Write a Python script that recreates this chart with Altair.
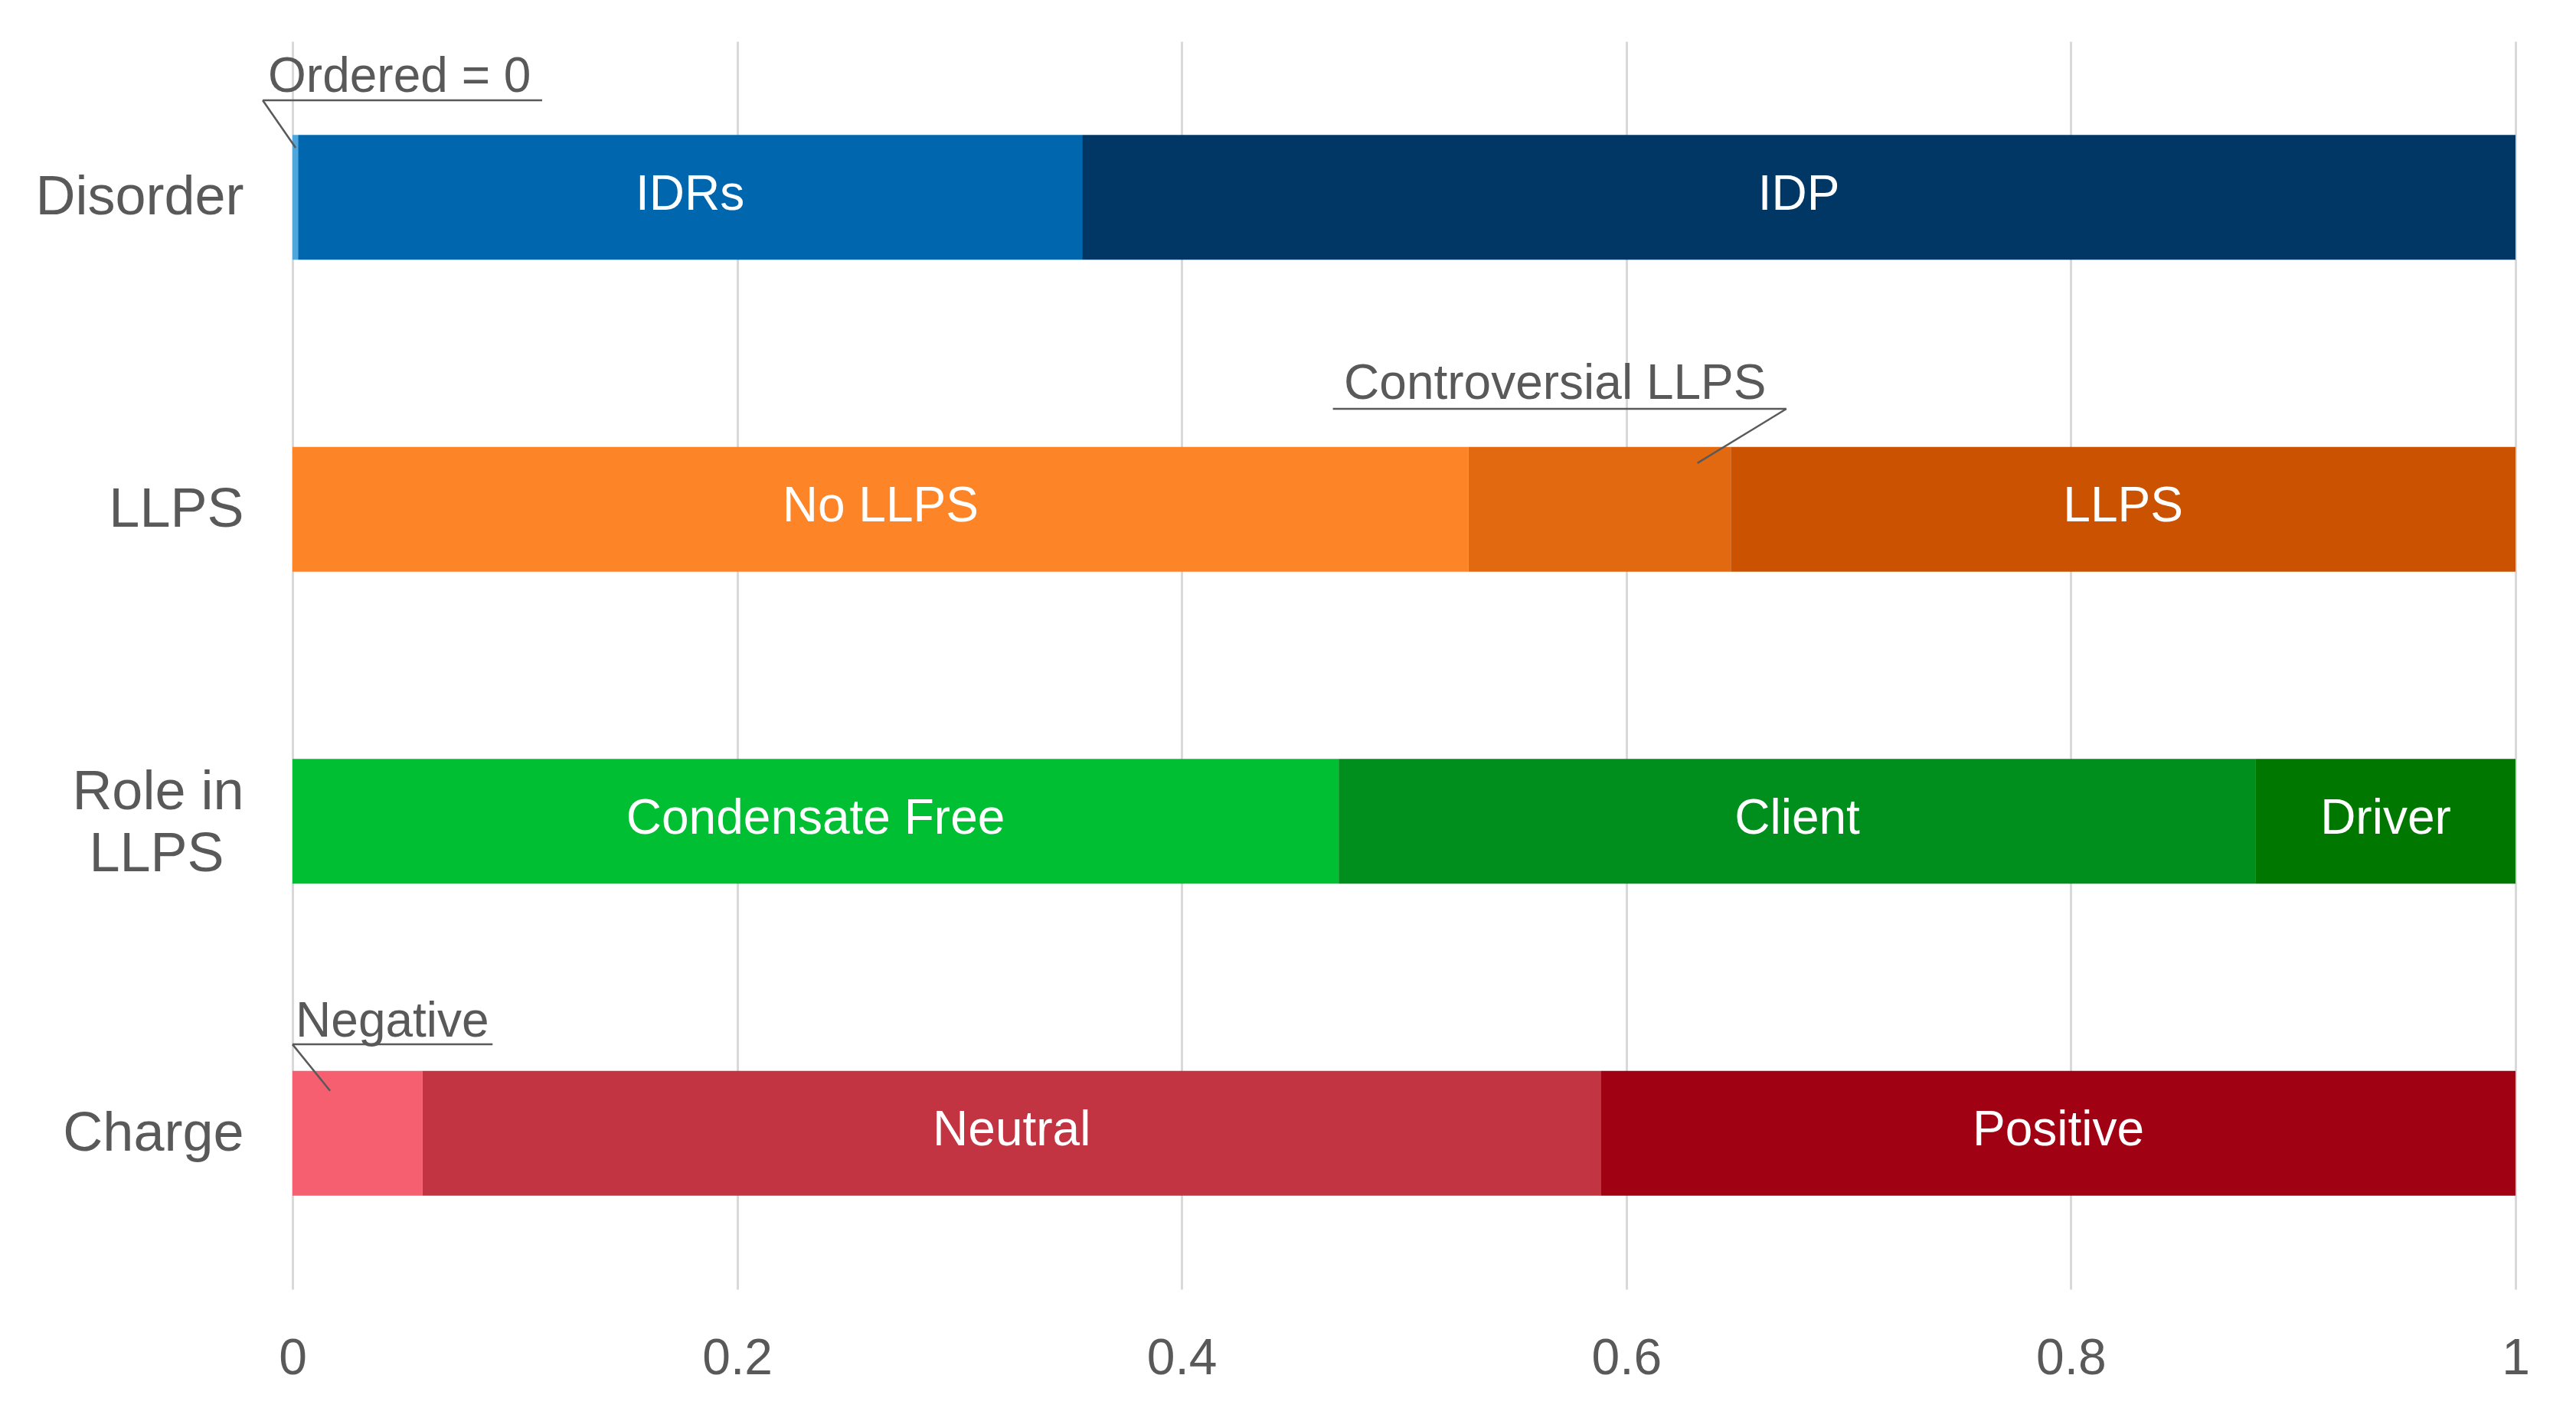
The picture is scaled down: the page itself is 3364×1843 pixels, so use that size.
import altair as alt
import pandas as pd

# ---- data ----
categories = ["Disorder", "LLPS", "Role in LLPS", "Charge"]
cat_pos = [0.5, 1.5, 2.5, 3.5]
# axis label lines (two-line label for "Role in LLPS")
label_pos = [0.5, 1.5, 2.405, 2.605, 3.5]
label_text = ["Disorder", "LLPS", "Role in", "LLPS", "Charge"]

seg_category = ["Disorder", "Disorder", "Disorder",
                "LLPS", "LLPS", "LLPS",
                "Role in LLPS", "Role in LLPS", "Role in LLPS",
                "Charge", "Charge", "Charge"]
seg_name = ["Ordered", "IDRs", "IDP",
            "No LLPS", "Controversial LLPS", "LLPS",
            "Condensate Free", "Client", "Driver",
            "Negative", "Neutral", "Positive"]
seg_value = [0.0025, 0.3527, 0.6448,
             0.529, 0.118, 0.353,
             0.4706, 0.4126, 0.1168,
             0.0584, 0.5303, 0.4113]
seg_label = ["", "IDRs", "IDP",
             "No LLPS", "", "LLPS",
             "Condensate Free", "Client", "Driver",
             "", "Neutral", "Positive"]
seg_color = ["#4ea6dc", "#0066ae", "#003764",
             "#fd8527", "#e36910", "#cb5200",
             "#00bf33", "#008f1c", "#007800",
             "#f65f70", "#c23441", "#a00213"]

# callout annotations (data units)
ann_text = ["Ordered = 0", "Controversial LLPS", "Negative"]
ann_text_x = [-0.011, 0.473, 0.0014]
ann_text_y = [0.162, 1.146, 3.19]
ann_line_x = [-0.0134, 0.468, 0.0]
ann_line_x2 = [0.1123, 0.672, 0.090]
ann_line_y = [0.189, 1.178, 3.215]
ann_lead_x = [-0.0134, 0.672, 0.0]
ann_lead_y = [0.189, 1.178, 3.215]
ann_lead_x2 = [0.0014, 0.632, 0.0169]
ann_lead_y2 = [0.341, 1.352, 3.364]

x_ticks = [0, 0.2, 0.4, 0.6, 0.8, 1]
bar_half = 0.2

# ---- tables ----
df = pd.DataFrame({"category": seg_category, "name": seg_name,
                   "value": seg_value, "label": seg_label, "color": seg_color})
pos_map = dict(zip(categories, cat_pos))
df["pos"] = df["category"].map(pos_map)
df["x_end"] = df.groupby("category", sort=False)["value"].cumsum()
df["x_start"] = df["x_end"] - df["value"]
df["x_mid"] = (df["x_start"] + df["x_end"]) / 2
df["y0"] = df["pos"] - bar_half
df["y1"] = df["pos"] + bar_half

ann = pd.DataFrame({"text": ann_text, "tx": ann_text_x, "ty": ann_text_y,
                    "lx": ann_line_x, "lx2": ann_line_x2, "ly": ann_line_y,
                    "kx": ann_lead_x, "ky": ann_lead_y,
                    "kx2": ann_lead_x2, "ky2": ann_lead_y2})

FONT = "Liberation Sans"
GREY = "#595959"

label_expr = " : ".join(
    f"abs(datum.value - {p}) < 0.01 ? '{t}'" for p, t in zip(label_pos, label_text)
) + " : ''"
second_line_test = "abs(datum.value - 2.605) < 0.01"

x_scale = alt.Scale(domain=[0, 1], nice=False, zero=False)
y_scale = alt.Scale(domain=[0, 4], reverse=True, nice=False, zero=False)

x_axis = alt.Axis(values=x_ticks, format=".1~f", title=None, grid=True,
                  gridColor="#d9d9d9", gridWidth=3, domain=False, ticks=False,
                  labelFontSize=66, labelColor=GREY, labelFont=FONT,
                  labelPadding=58, labelFlush=False)
y_axis = alt.Axis(values=label_pos, title=None, grid=False, domain=False, ticks=False,
                  labelExpr=label_expr,
                  labelFontSize=72, labelColor=GREY, labelFont=FONT,
                  labelPadding={"condition": {"test": second_line_test, "value": 178},
                                "value": 64},
                  labelAlign={"condition": {"test": second_line_test, "value": "center"},
                              "value": "right"},
                  labelBaseline="middle", labelLimit=0, labelOverlap=False)


def X(field):
    return alt.X(field, type="quantitative", scale=x_scale, axis=x_axis)


def Y(field):
    return alt.Y(field, type="quantitative", scale=y_scale, axis=y_axis)


bars = alt.Chart(df).mark_bar(strokeWidth=0).encode(
    x=X("x_start"), x2="x_end",
    y=Y("y0"), y2="y1",
    color=alt.Color("color:N", scale=None),
)

bar_text = alt.Chart(df).mark_text(
    color="white", fontSize=64, font=FONT, align="center", baseline="middle", dy=-3
).encode(x=X("x_mid"), y=Y("pos"), text="label:N")

underline = alt.Chart(ann).mark_rule(color=GREY, strokeWidth=2.5).encode(
    x=X("lx"), x2="lx2", y=Y("ly"))

leader = alt.Chart(ann).mark_rule(color=GREY, strokeWidth=2.5).encode(
    x=X("kx"), x2="kx2", y=Y("ky"), y2="ky2")

ann_text_layer = alt.Chart(ann).mark_text(
    color=GREY, fontSize=64, font=FONT, align="left", baseline="alphabetic"
).encode(x=X("tx"), y=Y("ty"), text="text:N")

chart = alt.layer(bars, bar_text, underline, leader, ann_text_layer).properties(
    width=2903, height=1630,
    padding={"left": 374, "top": 46, "right": 60, "bottom": 145},
    autosize=alt.AutoSizeParams(type="none"),
    background="white",
).configure_view(stroke=None)

chart.save("out.html", embed_options={"renderer": "svg", "actions": False})
